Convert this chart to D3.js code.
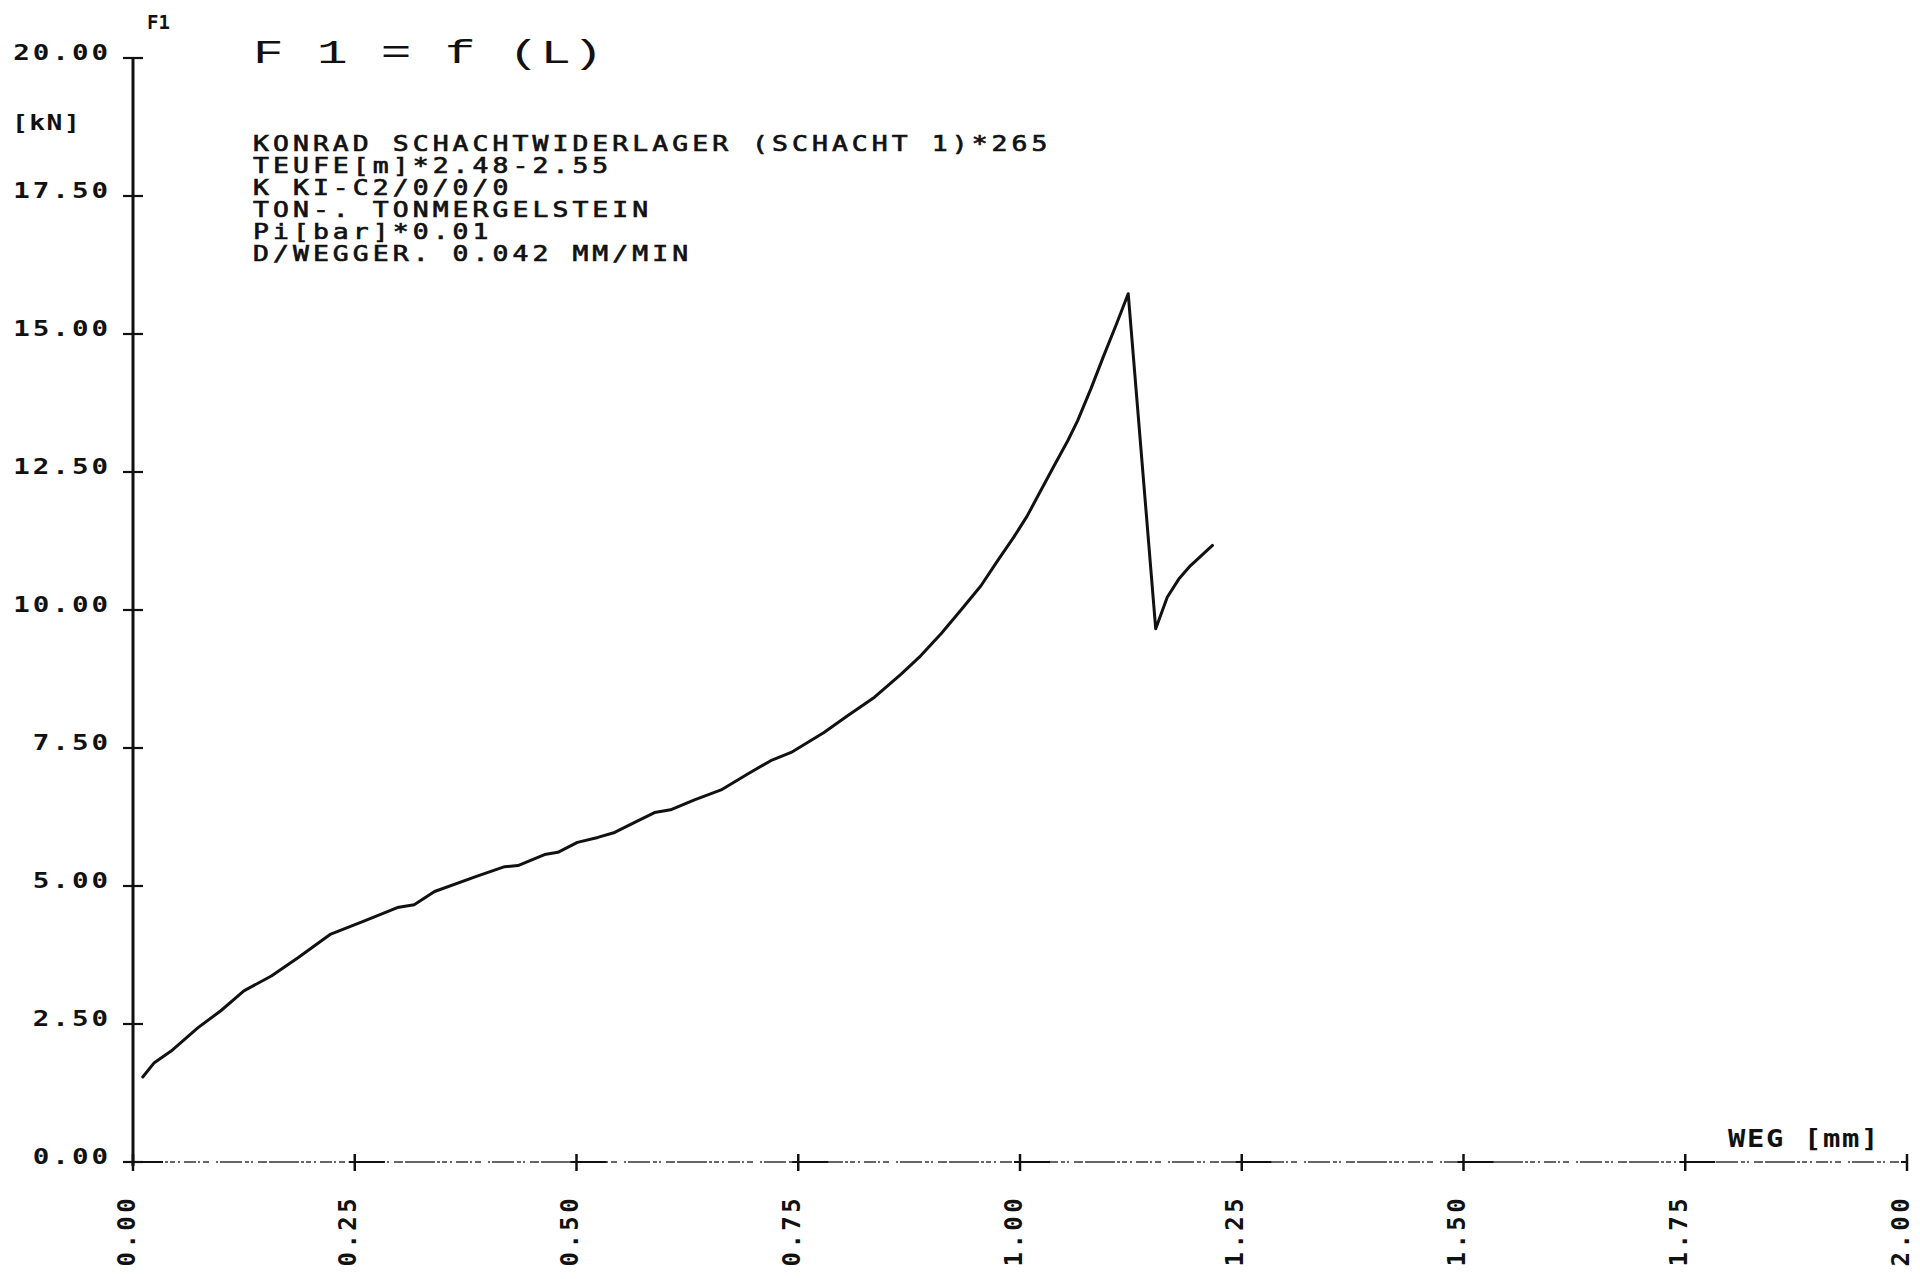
<!DOCTYPE html>
<html>
<head>
<meta charset="utf-8">
<script src="https://cdn.jsdelivr.net/npm/d3@7/dist/d3.min.js"></script>
<style>
  html, body { margin: 0; padding: 0; background: #ffffff; }
  svg { display: block; }
</style>
</head>
<body>
<svg id="chart" width="1920" height="1279"></svg>
<script>
// Displacement (WEG, mm) and force (F1, kN) of the test record
const wegMm = [
  0.011, 0.024, 0.043, 0.073, 0.099, 0.125, 0.156, 0.186, 0.223, 0.261,
  0.298, 0.317, 0.340, 0.388, 0.419, 0.434, 0.464, 0.479, 0.501, 0.524,
  0.543, 0.569, 0.588, 0.606, 0.633, 0.663, 0.693, 0.719, 0.742, 0.779,
  0.806, 0.836, 0.866, 0.888, 0.911, 0.933, 0.956, 0.975, 0.993, 1.008,
  1.023, 1.038, 1.054, 1.065, 1.080, 1.094, 1.109, 1.122, 1.153,
  1.166, 1.179, 1.192, 1.217
];
const forceKN = [
  1.54, 1.80, 2.01, 2.43, 2.74, 3.10, 3.37, 3.70, 4.13, 4.37,
  4.61, 4.66, 4.90, 5.18, 5.35, 5.37, 5.57, 5.61, 5.79, 5.88,
  5.97, 6.18, 6.33, 6.38, 6.56, 6.74, 7.03, 7.27, 7.42, 7.78,
  8.09, 8.42, 8.84, 9.17, 9.57, 9.99, 10.44, 10.90, 11.32, 11.70,
  12.15, 12.60, 13.07, 13.43, 14.01, 14.59, 15.19, 15.73, 9.66,
  10.23, 10.56, 10.80, 11.17
];

const xTickValues = [0, 0.25, 0.5, 0.75, 1.0, 1.25, 1.5, 1.75, 2.0];
const yTickValues = [0, 2.5, 5, 7.5, 10, 12.5, 15, 17.5, 20];
const xTickLabels = ["0.00", "0.25", "0.50", "0.75", "1.00", "1.25", "1.50", "1.75", "2.00"];
const yTickLabels = ["0.00", "2.50", "5.00", "7.50", "10.00", "12.50", "15.00", "17.50", "20.00"];

const headerLines = [
  "KONRAD SCHACHTWIDERLAGER (SCHACHT 1)*265",
  "TEUFE[m]*2.48-2.55",
  "K KI-C2/0/0/0",
  "TON-. TONMERGELSTEIN",
  "Pi[bar]*0.01",
  "D/WEGGER. 0.042 MM/MIN"
];

const svg = d3.select("#chart");
const ink = "#111";
const mono = "'DejaVu Sans Mono', 'Liberation Mono', monospace";

const x = d3.scaleLinear().domain([0, 2]).range([133, 1907]);
const y = d3.scaleLinear().domain([0, 20]).range([1162, 58]);

// x axis: thin, broken plotter line
svg.append("line")
  .attr("x1", x(0)).attr("x2", x(2))
  .attr("y1", y(0)).attr("y2", y(0))
  .attr("stroke", "#333").attr("stroke-width", 1.4)
  .attr("stroke-dasharray", "30 2 3 2 5 3 2 4 12 2 2 3 6 7 2 2 22 3 4 2 2 5 9 2");

// x axis ticks (vertical crosses)
svg.append("g").selectAll("line").data(xTickValues).join("line")
  .attr("x1", d => x(d)).attr("x2", d => x(d))
  .attr("y1", y(0) - 8).attr("y2", y(0) + 9)
  .attr("stroke", ink).attr("stroke-width", 2.5);

// short solid stretch of the x axis on each side of a tick
svg.append("g").selectAll("line").data(xTickValues).join("line")
  .attr("x1", d => x(d) - 6).attr("x2", d => Math.min(x(d) + 30, x(2)))
  .attr("y1", y(0)).attr("y2", y(0))
  .attr("stroke", ink).attr("stroke-width", 2);

// y axis: solid line
svg.append("line")
  .attr("x1", x(0)).attr("x2", x(0))
  .attr("y1", y(20)).attr("y2", y(0) + 4)
  .attr("stroke", ink).attr("stroke-width", 3);

// y axis ticks (horizontal crosses)
svg.append("g").selectAll("line").data(yTickValues).join("line")
  .attr("x1", x(0) - 10).attr("x2", x(0) + 10)
  .attr("y1", d => y(d)).attr("y2", d => y(d))
  .attr("stroke", ink).attr("stroke-width", 2.2);

// y tick labels
svg.append("g").selectAll("text").data(yTickValues).join("text")
  .attr("transform", d => `translate(111,${y(d) + 2}) scale(1.25,1)`)
  .attr("text-anchor", "end")
  .attr("font-family", mono).attr("font-weight", "bold")
  .attr("font-size", 22).attr("letter-spacing", 2.4)
  .attr("fill", ink)
  .text((d, i) => yTickLabels[i]);

// x tick labels, rotated to read upward
svg.append("g").selectAll("text").data(xTickValues).join("text")
  .attr("transform", d => `translate(${x(d) - 7},1195) rotate(-90)`)
  .attr("text-anchor", "end")
  .attr("dy", "0.36em")
  .attr("font-family", mono).attr("font-weight", "bold")
  .attr("font-size", 24).attr("letter-spacing", 3.4)
  .attr("fill", ink)
  .text((d, i) => xTickLabels[i]);

// axis names and units
svg.append("text")
  .attr("x", 147).attr("y", 29)
  .attr("font-family", mono).attr("font-weight", "bold")
  .attr("font-size", 19).attr("fill", ink)
  .text("F1");

svg.append("text")
  .attr("transform", "translate(12,130) scale(1.25,1)")
  .attr("font-family", mono).attr("font-weight", "bold")
  .attr("font-size", 21).attr("letter-spacing", 1.2).attr("fill", ink)
  .text("[kN]");

svg.append("text")
  .attr("transform", "translate(1728,1147) scale(1.2,1)")
  .attr("font-family", mono).attr("font-weight", "bold")
  .attr("font-size", 24).attr("letter-spacing", 1.4).attr("fill", ink)
  .text("WEG [mm]");

// chart title
svg.append("text")
  .attr("transform", "translate(253,63) scale(1.5,1)")
  .attr("font-family", "'Liberation Mono', monospace")
  .attr("font-size", 34).attr("letter-spacing", 0.9)
  .attr("fill", ink)
  .text("F 1 = f (L)");

// specimen header block
svg.append("g").selectAll("text").data(headerLines).join("text")
  .attr("transform", (d, i) => `translate(253,${151 + i * 22}) scale(1.2,1)`)
  .attr("font-family", mono)
  .attr("font-size", 22).attr("letter-spacing", 3.4)
  .attr("fill", ink)
  .attr("stroke", ink).attr("stroke-width", 0.7)
  .text(d => d);

// force-displacement curve
const pts = wegMm.map((w, i) => [w, forceKN[i]]);
svg.append("path")
  .datum(pts)
  .attr("fill", "none")
  .attr("stroke", ink)
  .attr("stroke-width", 3)
  .attr("stroke-linejoin", "round")
  .attr("stroke-linecap", "round")
  .attr("d", d3.line().x(d => x(d[0])).y(d => y(d[1])));
</script>
</body>
</html>
